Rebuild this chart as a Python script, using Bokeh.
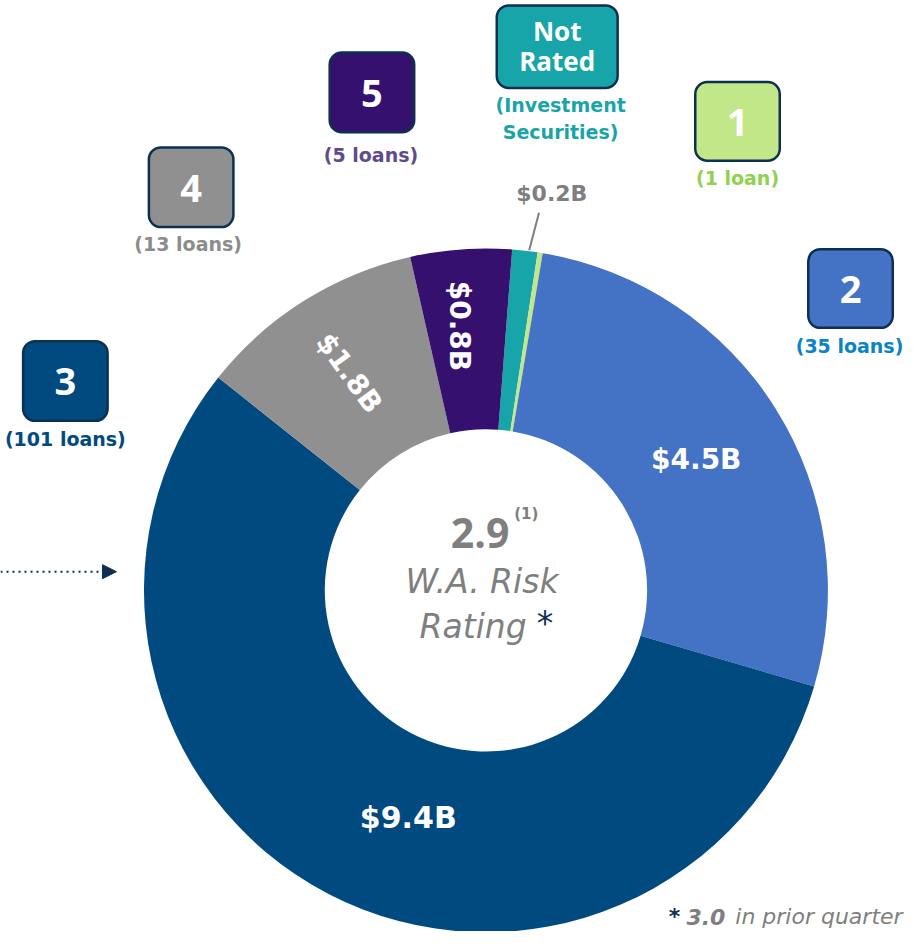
import numpy as np
from bokeh.plotting import figure
from bokeh.models import Range1d, Arrow, NormalHead, ColumnDataSource
from bokeh.core.properties import value
from bokeh.embed import file_html
from bokeh.resources import INLINE

# ---------------- data ----------------
ratings = ["Not Rated", "1", "2", "3", "4", "5"]
balances_b = [0.2, 0.04, 4.5, 9.4, 1.8, 0.8]          # $ billions
balance_labels = ["$0.2B", "", "$4.5B", "$9.4B", "$1.8B", "$0.8B"]
loan_labels = ["(Investment\nSecurities)", "(1 loan)", "(35 loans)",
               "(101 loans)", "(13 loans)", "(5 loans)"]
wa_rating = "2.9"
prior_rating = "3.0"

# ---------------- styles / layout ----------------
FONT = "Open Sans"
WIDE = "DejaVu Sans"
W_REF, H_REF = 924, 947
CX, CY = 494, 600           # donut centre (page px, y down)
R_OUT, R_IN = 348, 164
START_DEG = 4.4             # where the first slice starts, clockwise from 12 o'clock

slice_colors = ["#18A5A9", "#C1E789", "#4472C4", "#004A80", "#909090", "#36106F"]
sub_colors = ["#19A5A8", "#92D050", "#0A84C6", "#004A80", "#8C8C8C", "#5F4B8B"]
BORDER = "#0D3050"
GRAY_TXT = "#7F7F7F"

# box centres / sizes and sub-label positions (page px)
box_xy = [(566.5, 47), (750, 123), (865, 293), (66, 387), (194, 190), (378, 93.5)]
box_wh = [(123, 84), (86, 80), (86, 80), (86, 81), (86, 81), (86, 81)]
sub_xy = [(570, 106), (750, 181), (864, 351), (66, 446), (191, 248), (377, 157)]
# value-label positions, sizes and rotations (deg, ccw)
val_xy = [(561, 196), None, (708, 467), (415, 831), (355, 379), (467, 331)]
val_size = [22, 0, 28, 30, 28, 28]
val_rot = [0, 0, 0, 0, -54, -90]


def Y(y):
    return H_REF - y


def lines(x, y, s, step, **kw):
    for k, ln in enumerate(s.split("\n")):
        p.text(x=[x], y=[Y(y + k * step)], text=[ln], **kw)


p = figure(width=908, height=931, x_range=Range1d(0, W_REF), y_range=Range1d(0, H_REF),
           output_backend="svg", toolbar_location=None, min_border=0,
           x_axis_type=None, y_axis_type=None)
p.grid.grid_line_color = None
p.outline_line_color = None
p.background_fill_color = "white"
p.border_fill_color = "white"

# ---------------- donut ----------------
total = sum(balances_b)
cum = np.concatenate([[0.0], np.cumsum(balances_b)]) / total * 360.0
src = ColumnDataSource(dict(
    start=np.radians(90 - START_DEG - cum[:-1]),
    end=np.radians(90 - START_DEG - cum[1:]),
    color=slice_colors,
    rating=ratings,
))
p.annular_wedge(x=CX, y=Y(CY), inner_radius=R_IN, outer_radius=R_OUT,
                start_angle="start", end_angle="end", direction="clock",
                fill_color="color", line_color=None, source=src)

# ---------------- value labels ----------------
for i, lab in enumerate(balance_labels):
    if not lab or val_xy[i] is None:
        continue
    x, y = val_xy[i]
    color = GRAY_TXT if i == 0 else "white"
    p.text(x=[x], y=[Y(y)], text=[lab], text_font=value(WIDE), text_font_size=f"{val_size[i]}px",
           text_font_style="bold", text_color=color, text_align="center",
           text_baseline="middle", angle=np.radians(val_rot[i]))

# leader line for the small slice
p.segment(x0=[548], y0=[Y(216)], x1=[538], y1=[Y(254)], line_color=GRAY_TXT, line_width=2)

# ---------------- rating boxes ----------------
for i, r in enumerate(ratings):
    bx, by = box_xy[i]
    bw, bh = box_wh[i]
    p.quad(left=[bx - bw / 2], right=[bx + bw / 2], top=[Y(by - bh / 2)], bottom=[Y(by + bh / 2)],
           fill_color=slice_colors[i], line_color=BORDER, line_width=2.5, border_radius=12)
    if " " in r:
        lines(bx, by - 16, r.replace(" ", "\n"), 31, text_font=value(FONT), text_font_size="26px",
              text_font_style="bold", text_color="white", text_align="center",
              text_baseline="middle")
    else:
        p.text(x=[bx], y=[Y(by + 1)], text=[r], text_font=value(FONT), text_font_size="38px",
               text_font_style="bold", text_color="white", text_align="center",
               text_baseline="middle")
    sx, sy = sub_xy[i]
    lines(sx, sy, loan_labels[i], 28, text_font=value(WIDE), text_font_size="19px",
          text_font_style="bold", text_color=sub_colors[i], text_align="center",
          text_baseline="middle")

# ---------------- centre text ----------------
p.text(x=[488], y=[Y(542)], text=[wa_rating], text_font=value(FONT), text_font_size="41px",
       text_font_style="bold", text_color=GRAY_TXT, text_align="center", text_baseline="middle")
p.text(x=[535], y=[Y(522)], text=["(1)"], text_font=value(WIDE), text_font_size="15px",
       text_font_style="bold", text_color=GRAY_TXT, text_align="center", text_baseline="middle")
p.text(x=[490], y=[Y(591)], text=["W.A. Risk"], text_font=value(WIDE), text_font_size="33px",
       text_font_style="italic", text_color=GRAY_TXT, text_align="center", text_baseline="middle")
p.text(x=[481], y=[Y(637)], text=["Rating"], text_font=value(WIDE), text_font_size="33px",
       text_font_style="italic", text_color=GRAY_TXT, text_align="center", text_baseline="middle")
p.text(x=[554], y=[Y(634)], text=["*"], text_font=value(WIDE), text_font_size="33px",
       text_color=BORDER, text_align="center", text_baseline="middle")

# ---------------- footnote ----------------
p.text(x=[680], y=[Y(932)], text=["*"], text_font=value(WIDE), text_font_size="22px",
       text_font_style="bold", text_color=BORDER, text_align="left", text_baseline="alphabetic")
p.text(x=[698], y=[Y(932)], text=[prior_rating], text_font=value(WIDE), text_font_size="22px",
       text_font_style="bold italic", text_color=GRAY_TXT, text_align="left", text_baseline="alphabetic")
p.text(x=[918], y=[Y(932)], text=["in prior quarter"], text_font=value(WIDE), text_font_size="22px",
       text_font_style="italic", text_color=GRAY_TXT, text_align="right", text_baseline="alphabetic")

# ---------------- dotted arrow ----------------
p.add_layout(Arrow(end=NormalHead(size=14, fill_color=BORDER, line_color=BORDER),
                   x_start=0, y_start=Y(581), x_end=118, y_end=Y(581),
                   line_color=BORDER, line_width=2, line_dash="2 4"))

open("out.html", "w").write(file_html(p, INLINE))
